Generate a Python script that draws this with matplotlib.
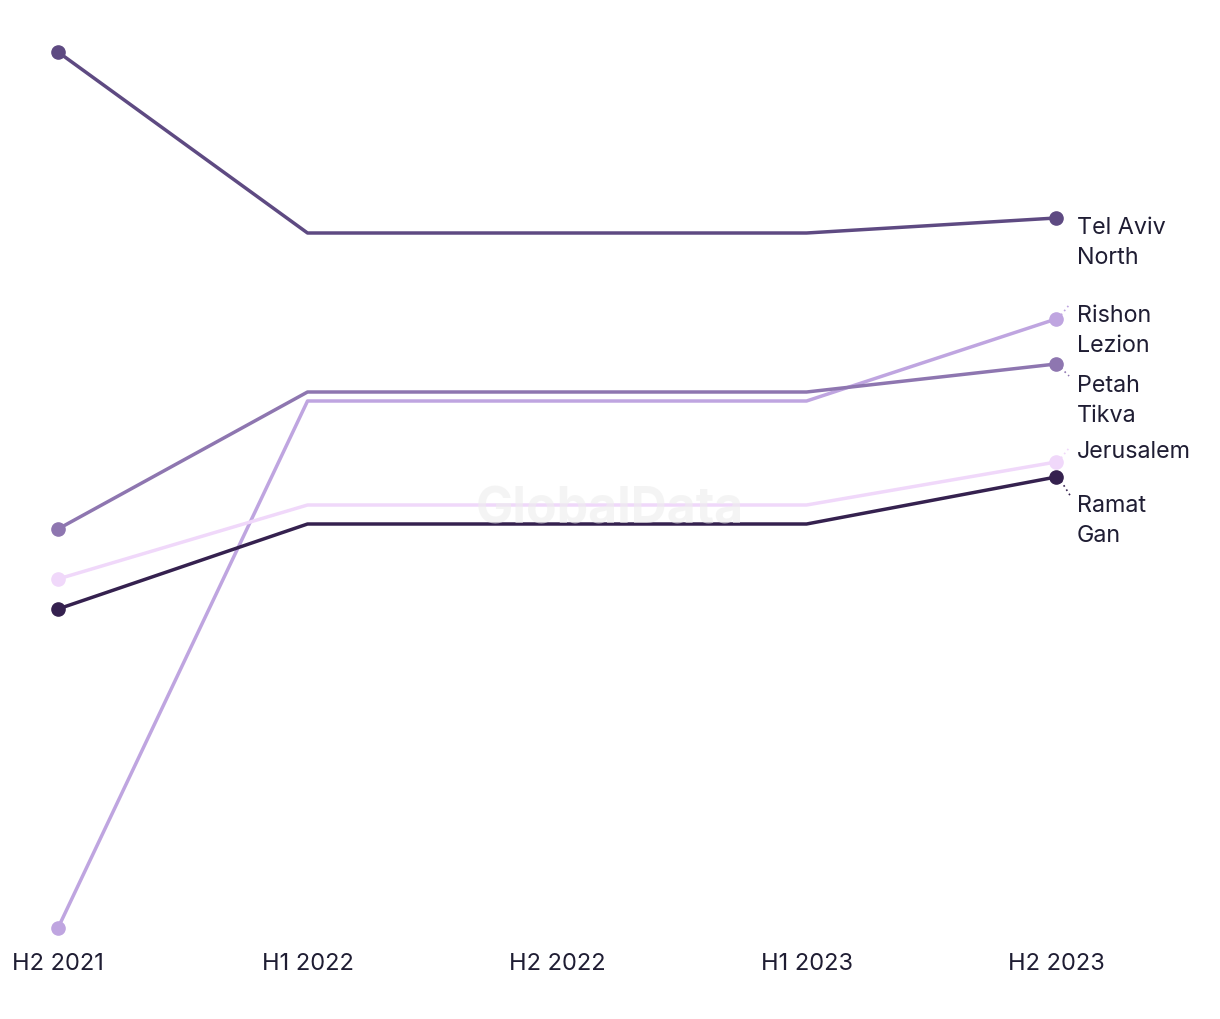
import matplotlib
matplotlib.use("Agg")
import matplotlib.pyplot as plt
import matplotlib.transforms as mtransforms

periods = ["H2 2021", "H1 2022", "H2 2022", "H1 2023", "H2 2023"]
series_names = ["Tel Aviv North", "Rishon Lezion", "Petah Tikva", "Jerusalem", "Ramat Gan"]
tel_aviv_north = [92.7, 74.6, 74.6, 74.6, 76.1]
rishon_lezion = [5.1, 57.8, 57.8, 57.8, 66.0]
petah_tikva = [45.0, 58.7, 58.7, 58.7, 61.5]
jerusalem = [40.0, 47.4, 47.4, 47.4, 51.7]
ramat_gan = [37.0, 45.5, 45.5, 45.5, 50.2]
labels = ["Tel Aviv\nNorth", "Rishon\nLezion", "Petah\nTikva", "Jerusalem", "Ramat\nGan"]

values = [tel_aviv_north, rishon_lezion, petah_tikva, jerusalem, ramat_gan]
colors = ["#5e4a82", "#bfa5e0", "#8e76b0", "#f0d8fa", "#35214f"]
# label block vertical offset in pixels (down positive) and leader flags
label_off = [-24, -11, -36, 11, -43]
leader = [None, (8, 10), (8, -8), (8, 10), (10, -16)]

plt.rcParams['font.family'] = ['Inter', 'DejaVu Sans']
fig = plt.figure(figsize=(12.2, 10.2), dpi=100)
ax = fig.add_axes([0, 0, 1, 1])
ax.set_xlim(-0.2325, 4.657)
ax.set_ylim(-4, 98)
ax.axis('off')

x = list(range(len(periods)))
ax.text(0.5, 0.5, "GlobalData", transform=ax.transAxes, ha='center', va='center',
        fontsize=36, fontweight='bold', color='#eeeeee', alpha=0.6, zorder=5)

for vals, c in zip(values, colors):
    ax.plot(x, vals, color=c, lw=2.5, zorder=3, solid_capstyle='round')
    ax.plot([x[0], x[-1]], [vals[0], vals[-1]], 'o', color=c, ms=9.5, zorder=4)

txtcol = '#1f1d33'
for vals, lab, off, ld, c in zip(values, labels, label_off, leader, colors):
    tr = mtransforms.offset_copy(ax.transData, fig=fig, x=21, y=off, units='dots')
    ax.text(x[-1], vals[-1], lab, transform=tr, ha='left', va='center',
            fontsize=16.8, color=txtcol, linespacing=1.42, zorder=6)
    if ld is not None:
        p0 = ax.transData.transform((x[-1], vals[-1]))
        inv = ax.transData.inverted()
        a = inv.transform((p0[0] + 5, p0[1] + (4 if ld[1] > 0 else -4)))
        b = inv.transform((p0[0] + 5 + ld[0], p0[1] + ld[1] + (4 if ld[1] > 0 else -4)))
        ax.plot([a[0], b[0]], [a[1], b[1]], ls=(0, (1, 2)), color=c, lw=1.2, zorder=2)

ybase = mtransforms.blended_transform_factory(ax.transData, ax.transAxes)
for xi, p in zip(x, periods):
    ax.text(xi, 1 - 964 / 1020, p, transform=ybase, ha='center', va='center',
            fontsize=17, color=txtcol)

fig.savefig("out.png", dpi=100, facecolor='white')
